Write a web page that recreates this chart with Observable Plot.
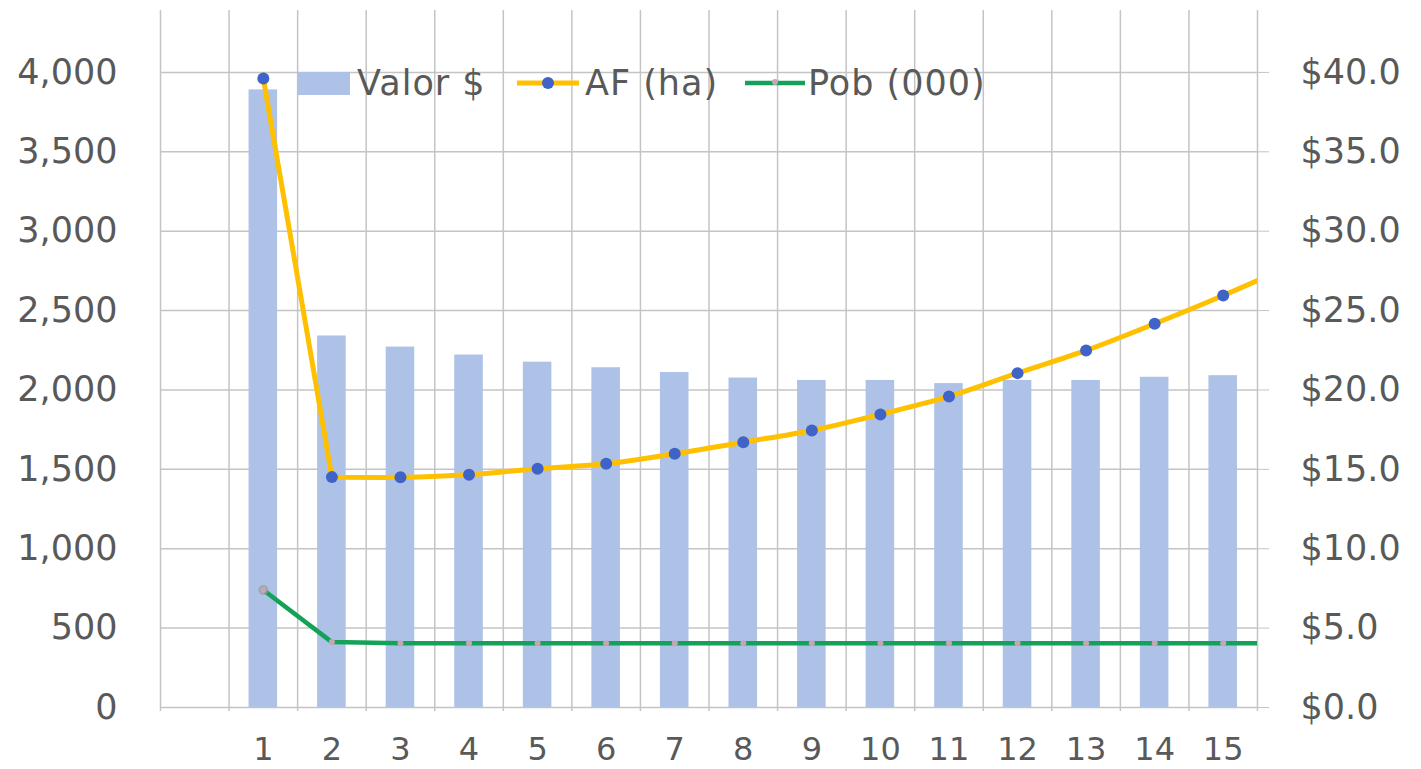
<!DOCTYPE html>
<html><head><meta charset="utf-8">
<script src="https://cdn.jsdelivr.net/npm/d3@7"></script>
<script src="https://cdn.jsdelivr.net/npm/@observablehq/plot@0.6"></script>
<style>
body{margin:0;background:#fff;font-family:"DejaVu Sans",sans-serif;}
#wrap{position:relative;width:1421px;height:769px;}
.leg{position:absolute;top:62px;height:42px;display:flex;align-items:center;font-size:35px;letter-spacing:1px;color:#595959;white-space:nowrap;}
</style></head><body><div id="wrap"></div>
<script>
// Data
const periods = [1, 2, 3, 4, 5, 6, 7, 8, 9, 10, 11, 12, 13, 14, 15];
const valor = [38.9, 23.4, 22.7, 22.2, 21.75, 21.4, 21.1, 20.75, 20.6, 20.6, 20.4, 20.6, 20.6, 20.8, 20.9]; // $ (right axis)
const linePeriods = [1, 2, 3, 4, 5, 6, 7, 8, 9, 10, 11, 12, 13, 14, 15, 16]; // lines run on past the frame edge
const af = [3962, 1451, 1450, 1466, 1504, 1535, 1598, 1671, 1745, 1846, 1959, 2106, 2249, 2417, 2595, 2785];
const pob = [740, 412, 405, 405, 405, 405, 405, 405, 405, 405, 405, 405, 405, 405, 405, 405];
const leftTicks = [0, 500, 1000, 1500, 2000, 2500, 3000, 3500, 4000];
const rightTicks = [0, 5, 10, 15, 20, 25, 30, 35, 40];
const seriesNames = ["Valor $", "AF (ha)", "Pob (000)"];
const dollarToLeft = 100;

const barData = periods.map((p, i) => ({p, v: valor[i] * dollarToLeft}));
const afData = linePeriods.map((p, i) => ({p, v: af[i]}));
const pobData = linePeriods.map((p, i) => ({p, v: pob[i]}));
const bounds = [0, ...periods].map(p => p - 0.5).concat([periods[periods.length - 1] + 0.5]);

const C = {bar: "#adc2e6", af: "#ffc000", afDot: "#3f63c6", pob: "#13a257", pobMark: "#c4a6b6", grid: "#c4c4c4", text: "#595959"};

const chart = Plot.plot({
  width: 1421, height: 769,
  marginLeft: 160, marginRight: 164, marginTop: 10, marginBottom: 62,
  style: {fontFamily: "DejaVu Sans", fontSize: "34px", color: C.text, background: "#fff"},
  x: {type: "linear", domain: [-0.5, 15.5]},
  y: {domain: [0, 4390]},
  marks: [
    Plot.ruleY(leftTicks, {stroke: C.grid, strokeWidth: 1.5}),
    Plot.ruleX(bounds, {stroke: C.grid, strokeWidth: 1.5, insetBottom: -4}),
    Plot.rectY(barData, {x1: d => d.p - 0.5, x2: d => d.p + 0.5, y: "v", insetLeft: 20, insetRight: 20, fill: C.bar}),
    Plot.line(pobData, {x: "p", y: "v", stroke: C.pob, strokeWidth: 4.5, clip: true}),
    Plot.dot(pobData.slice(0, 1), {x: "p", y: "v", r: 5, fill: "#9a9a9a", fillOpacity: 0.7}),
    Plot.dot(pobData, {x: "p", y: "v", r: 3, fill: C.pobMark, clip: true}),
    Plot.line(afData.slice(0, 2), {x: "p", y: "v", stroke: C.af, strokeWidth: 5}),
    Plot.line(afData.slice(1), {x: "p", y: "v", curve: "catmull-rom", stroke: C.af, strokeWidth: 5, clip: true}),
    Plot.dot(afData, {x: "p", y: "v", r: 6, fill: C.afDot, clip: true}),
    Plot.axisY(leftTicks, {anchor: "left", tickSize: 0, tickPadding: 43, tickFormat: d3.format(","), label: null, fontSize: 35}),
    Plot.axisY(rightTicks.map(t => t * dollarToLeft), {anchor: "right", tickSize: 11, tickPadding: 32, stroke: C.grid, tickFormat: d => "$" + (d / dollarToLeft).toFixed(1), label: null, fontSize: 35}),
    Plot.axisX(periods, {anchor: "bottom", tickSize: 0, tickPadding: 30, tickFormat: d => String(d), label: null, fontSize: 32})
  ]
});
const wrap = document.getElementById("wrap");
wrap.appendChild(chart);

// Legend (inside the plot area, as in the reference)
const leg = [
  {left: 297, html: `<span style="display:inline-block;width:53px;height:23px;background:${C.bar};margin-right:7px"></span>${seriesNames[0]}`},
  {left: 517, html: `<svg width="62" height="14" style="margin-right:6px"><line x1="0" y1="7" x2="62" y2="7" stroke="${C.af}" stroke-width="5"/><circle cx="31" cy="7" r="6" fill="${C.afDot}"/></svg>${seriesNames[1]}`},
  {left: 745, html: `<svg width="60" height="14" style="margin-right:3px"><line x1="0" y1="7" x2="60" y2="7" stroke="${C.pob}" stroke-width="4.5"/><circle cx="30" cy="6" r="3" fill="${C.pobMark}"/></svg>${seriesNames[2]}`}
];
for (const l of leg) {
  const d = document.createElement("div");
  d.className = "leg";
  d.style.left = l.left + "px";
  d.innerHTML = l.html;
  wrap.appendChild(d);
}
</script>
</body></html>
